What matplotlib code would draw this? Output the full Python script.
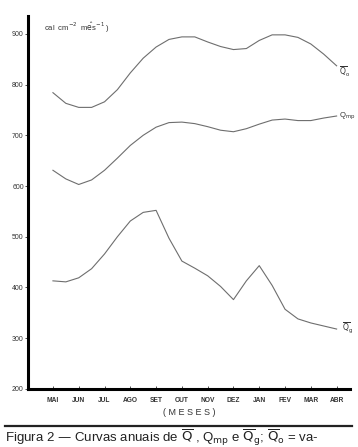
import numpy as np
import matplotlib.pyplot as plt

#-----------------------------------------------------------------------------
'''data (read off the figure, half-month steps)'''

months = ["MAI", "JUN", "JUL", "AGO", "SET", "OUT", "NOV",
          "DEZ", "JAN", "FEV", "MAR", "ABR"]
t = np.arange(0, 11.01, 0.5)   # month position, MAI = 0

q_o = [784, 763, 755, 755, 766, 790, 823, 852, 874, 889, 894, 894,
       884, 875, 869, 871, 887, 898, 898, 893, 880, 860, 837]
q_mp = [631, 614, 603, 612, 631, 655, 680, 700, 716, 725, 726, 723,
        717, 710, 707, 713, 722, 730, 732, 729, 729, 734, 738]
q_g = [413, 411, 419, 437, 466, 500, 531, 548, 552, 497, 452, 438,
       423, 402, 376, 413, 443, 404, 357, 338, 330, 324, 318]

yticks = [200, 300, 400, 500, 600, 700, 800, 900]

#-----------------------------------------------------------------------------

plt.rcParams['font.family'] = ['Liberation Sans', 'DejaVu Sans']

fig = plt.figure(figsize=(3.58, 4.47), dpi=100)
ax = fig.add_axes([0.078, 0.130, 0.899, 0.834])

lc = "#6e6e6e"
ax.plot(t, q_o, color=lc, lw=0.8)
ax.plot(t, q_mp, color=lc, lw=0.8)
ax.plot(t, q_g, color=lc, lw=0.8)

ax.set_xlim(-0.97, 11.51)
ax.set_ylim(200, 935)

ax.spines['top'].set_visible(False)
ax.spines['right'].set_visible(False)
ax.spines['left'].set_linewidth(2.2)
ax.spines['bottom'].set_linewidth(2.2)

ax.set_yticks(yticks)
ax.set_yticklabels([str(v) for v in yticks], fontsize=5)
ax.tick_params(axis='y', direction='out', length=2.5, width=0.6, pad=0.5, colors='#333333')
ax.set_xticks(np.arange(len(months)))
ax.set_xticklabels(months, fontsize=4.8, fontweight='bold')
ax.tick_params(axis='x', direction='in', length=2, width=0.6, pad=6, colors='#333333')

ax.set_xlabel("( M E S E S )", fontsize=6.5, labelpad=3, color='#333333')

# unit label and curve labels
ax.text(0.05, 0.97, r"cal  cm$^{-2}$  m$\hat{\rm e}$s$^{-1}$ )", transform=ax.transAxes,
        fontsize=5.5, color='#333333', va='center')
ax.text(11.1, 840, r"$\overline{\rm Q}_{\rm o}$", fontsize=5.5, color='#333333', va='top')
ax.text(11.1, 737, r"Q$_{\rm mp}$", fontsize=5.5, color='#333333', va='center')
ax.text(11.2, 322, r"$\overline{\rm Q}_{\rm g}$", fontsize=5.5, color='#333333', va='center')

#-----------------------------------------------------------------------------
'''caption'''

fig.add_artist(plt.Line2D([0.014, 0.983], [0.047, 0.047], color='#222222', lw=1.6))
fig.text(0.014, 0.011, r"Figura 2 — Curvas anuais de $\overline{\rm Q}$ , Q$_{\rm mp}$ e $\overline{\rm Q}_{\rm g}$; $\overline{\rm Q}_{\rm o}$ = va-",
         fontsize=9.5, color='#222222', va='baseline', ha='left')

plt.savefig('out.png', dpi=100)
